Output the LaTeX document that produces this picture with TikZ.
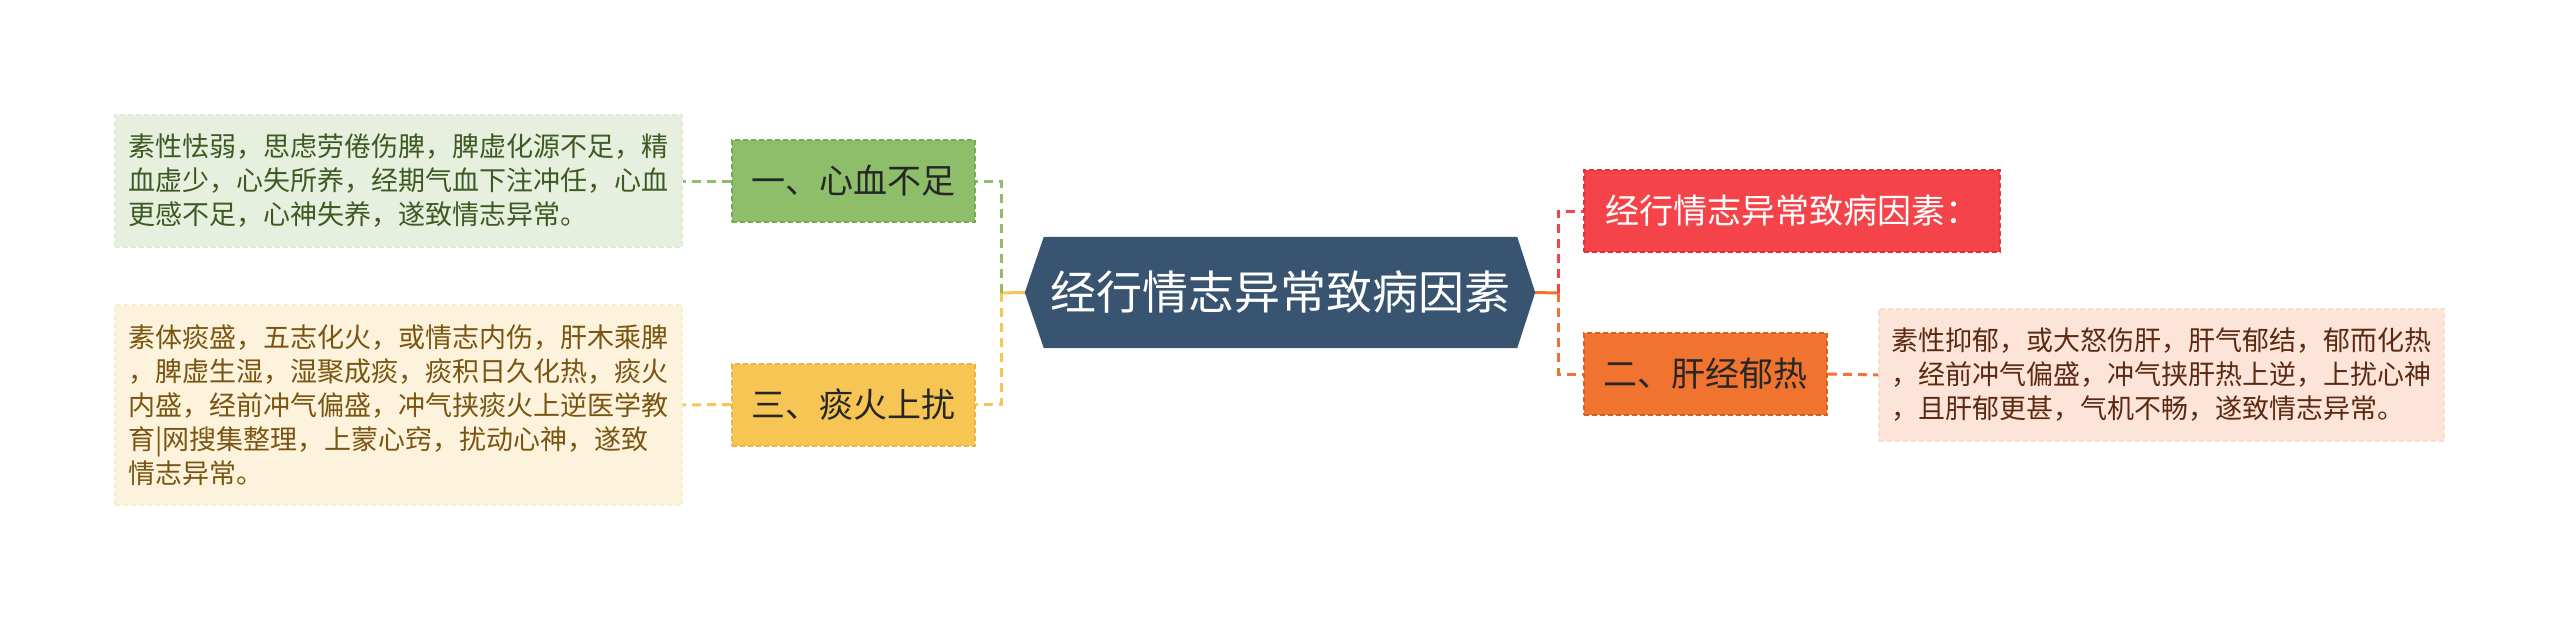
\documentclass[tikz,border=0pt]{standalone}
\usepackage{fontspec}
\setmainfont{Noto Sans CJK SC}
\definecolor{rootfill}{HTML}{395470}
\definecolor{gfill}{HTML}{8FBE6B}
\definecolor{gdraw}{HTML}{7AA857}
\definecolor{gdet}{HTML}{E7F0DF}
\definecolor{gdetdraw}{HTML}{E0EBD7}
\definecolor{gtext}{HTML}{3D5A23}
\definecolor{yfill}{HTML}{F7C553}
\definecolor{ydraw}{HTML}{E9B440}
\definecolor{ydet}{HTML}{FDF3DC}
\definecolor{ydetdraw}{HTML}{F8EDD2}
\definecolor{ytext}{HTML}{7A5512}
\definecolor{rfill}{HTML}{F5434A}
\definecolor{rdraw}{HTML}{E2323A}
\definecolor{ofill}{HTML}{F07430}
\definecolor{odraw}{HTML}{DD6020}
\definecolor{odet}{HTML}{FCE4D8}
\definecolor{odetdraw}{HTML}{F6DCCE}
\definecolor{otext}{HTML}{5C2A12}
\definecolor{darktext}{HTML}{262626}
\pgfdeclarelayer{bg}
\pgfdeclarelayer{shapes}
\pgfsetlayers{bg,shapes,main}
\begin{document}
\begin{tikzpicture}[x=1pt,y=-1pt,
  rootnode/.style={minimum width=473pt,minimum height=111pt,inner sep=0pt,text=white,font=\fontsize{46}{52}\selectfont},
  lvlbox/.style={minimum height=82pt,inner sep=0pt,line width=2pt,dash pattern=on 5pt off 3pt,font=\fontsize{34}{40}\selectfont},
  detailbox/.style={inner sep=0pt,line width=1.5pt,dash pattern=on 5pt off 3pt,align=left,font=\fontsize{27}{34}\selectfont},
  trunk/.style={line width=3pt},
  conn/.style={line width=3pt,dash pattern=on 9pt off 6pt}]
\begin{pgfonlayer}{bg}
\fill[white] (0,0) rectangle (2560,621);
\end{pgfonlayer}
\useasboundingbox (0,0) rectangle (2560,621);

% root
\node[rootnode] (root) at (1280.5,292.5) {经行情志异常致病因素};
\coordinate (rootL) at ([xshift=-19pt]root.west);
\coordinate (rootR) at ([xshift=18pt]root.east);
\begin{pgfonlayer}{shapes}
\fill[rootfill] (root.north west) -- (root.north east) -- (rootR) -- (root.south east) -- (root.south west) -- (rootL) -- cycle;
\end{pgfonlayer}

% level boxes
\node[lvlbox,minimum width=243pt,fill=gfill,draw=gdraw,text=darktext] (g) at (853.5,181) {一、心血不足};
\node[lvlbox,minimum width=243pt,fill=yfill,draw=ydraw,text=darktext] (y) at (853.5,404.5) {三、痰火上扰};
\node[lvlbox,minimum width=416pt,fill=rfill,draw=rdraw,text=white] (r) at (1792,211) {经行情志异常致病因素：};
\node[lvlbox,minimum width=243pt,fill=ofill,draw=odraw,text=darktext] (o) at (1705.5,374) {二、肝经郁热};

% detail boxes
\node[detailbox,minimum width=567pt,minimum height=132pt,fill=gdet,draw=gdetdraw,text=gtext] (gd) at (398.5,181)
 {素性怯弱，思虑劳倦伤脾，脾虚化源不足，精\\血虚少，心失所养，经期气血下注冲任，心血\\更感不足，心神失养，遂致情志异常。};
\node[detailbox,minimum width=567pt,minimum height=200pt,fill=ydet,draw=ydetdraw,text=ytext] (yd) at (398.5,405)
 {素体痰盛，五志化火，或情志内伤，肝木乘脾\\，脾虚生湿，湿聚成痰，痰积日久化热，痰火\\内盛，经前冲气偏盛，冲气挟痰火上逆医学教\\育|网搜集整理，上蒙心窍，扰动心神，遂致\\情志异常。};
\node[detailbox,minimum width=565pt,minimum height=132pt,fill=odet,draw=odetdraw,text=otext] (od) at (2161.5,375)
 {素性抑郁，或大怒伤肝，肝气郁结，郁而化热\\，经前冲气偏盛，冲气挟肝热上逆，上扰心神\\，且肝郁更甚，气机不畅，遂致情志异常。};

% connectors
\coordinate (lj) at (1001,293);
\coordinate (rj) at (1558,293);
\draw[trunk,yfill] (rootL) -- (lj);
\draw[conn,gfill] (lj) |- (g.east);
\draw[conn,yfill] (lj) |- (y.east);
\draw[conn,gfill] (g.west) -- (gd.east);
\draw[conn,yfill] (y.west) -- (yd.east);
\draw[trunk,ofill] (rootR) -- (rj);
\draw[conn,rfill] (rj) |- (r.west);
\draw[conn,ofill] (rj) |- (o.west);
\draw[conn,ofill] (o.east) -- (od.west);
\end{tikzpicture}
\end{document}
